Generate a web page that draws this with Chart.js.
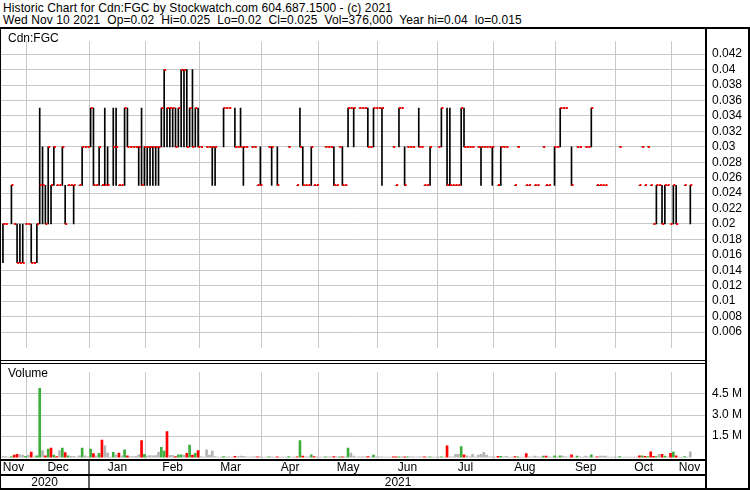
<!DOCTYPE html>
<html>
<head>
<meta charset="utf-8">
<script src="https://cdn.jsdelivr.net/npm/chart.js@4.4.1/dist/chart.umd.min.js"></script>
<style>
  body { margin: 0; background: #fff; }
  #wrap { position: relative; width: 750px; height: 490px; overflow: hidden; background: #fff;
          font-family: Arial, "Liberation Sans", sans-serif; font-size: 12px; color: #000; }
  .txt { position: absolute; white-space: pre; line-height: 14px; }
  .title { letter-spacing: 0.1px; }
  .rule { position: absolute; background: #000; }
  canvas { position: absolute; left: 0; }
</style>
</head>
<body>
<div id="wrap">
  <div class="txt title" style="left:3px;top:1px">Historic Chart for Cdn:FGC by Stockwatch.com 604.687.1500 - (c) 2021</div>
  <div class="txt title" style="left:3px;top:13px">Wed Nov 10 2021  Op=0.02  Hi=0.025  Lo=0.02  Cl=0.025  Vol=376,000  Year hi=0.04  lo=0.015</div>
  <canvas id="priceChart" width="750" height="331" style="top:29px"></canvas>
  <canvas id="volumeChart" width="750" height="130" style="top:360px"></canvas>
  <div class="txt" style="left:8px;top:31px">Cdn:FGC</div>
  <div class="txt" style="left:8px;top:366px">Volume</div>
  <!-- frame -->
  <div class="rule" style="left:0;top:27px;width:750px;height:2px"></div>
  <div class="rule" style="left:0;top:29px;width:1px;height:461px"></div>
  <div class="rule" style="left:748px;top:27px;width:2px;height:463px"></div>
  <div class="rule" style="left:705px;top:29px;width:2px;height:459px"></div>
  <div class="rule" style="left:0;top:360px;width:707px;height:1px"></div>
  <div class="rule" style="left:0;top:363px;width:707px;height:1px"></div>
  <div class="rule" style="left:0;top:459px;width:707px;height:2px"></div>
  <div class="rule" style="left:0;top:474px;width:707px;height:2px"></div>
  <div class="rule" style="left:0;top:488px;width:750px;height:2px"></div>
</div>
<script>
// month layout of the trading-day axis
const monthNames = ['Nov', 'Dec', 'Jan', 'Feb', 'Mar', 'Apr', 'May', 'Jun', 'Jul', 'Aug', 'Sep', 'Oct', 'Nov'];
const monthDays = [9, 22, 20, 19, 22, 20, 21, 21, 20, 22, 21, 20, 7];
const yearLabels = ['2020', '2021'];
const yearMonths = [2, 11];

const priceTicks = [0.006, 0.008, 0.01, 0.012, 0.014, 0.016, 0.018, 0.02, 0.022, 0.024,
                    0.026, 0.028, 0.03, 0.032, 0.034, 0.036, 0.038, 0.04, 0.042];
const volumeTicks = [1500000, 3000000, 4500000];
const volumeTickLabels = ['1.5 M', '3.0 M', '4.5 M'];

// daily high / low / close (null = no trade)
const highs = [
  // Nov 2020
  0.02, 0.02, null, 0.025, 0.02, 0.02, 0.02, 0.02, 0.02,
  // Dec
  0.02, 0.02, 0.015, 0.02, 0.035, 0.03, 0.025, 0.03, 0.025, 0.03, 0.025, 0.025, 0.03, 0.025, 0.025, 0.025, 0.025, null, 0.025, 0.03, 0.03, 0.03,
  // Jan 2021
  0.035, 0.035, 0.025, 0.03, 0.025, 0.035, 0.03, null, 0.035, 0.035, 0.025, 0.025, 0.035, 0.035, 0.03, 0.03, 0.03, 0.03, 0.035, 0.03,
  // Feb
  0.03, 0.03, 0.03, 0.03, 0.03, 0.035, 0.04, 0.035, 0.035, 0.035, 0.035, 0.035, 0.04, 0.04, 0.04, 0.035, 0.04, 0.035, 0.035,
  // Mar
  0.03, null, 0.03, 0.03, 0.03, 0.03, null, null, 0.035, 0.035, 0.035, null, 0.035, 0.03, 0.035, 0.03, 0.03, null, 0.03, 0.03, 0.025, 0.03,
  // Apr
  null, null, 0.03, 0.03, null, 0.03, null, null, null, 0.03, null, null, 0.025, 0.035, 0.03, 0.025, 0.025, 0.03, 0.025, 0.025,
  // May
  null, null, 0.03, 0.03, 0.03, 0.03, 0.025, 0.03, 0.03, 0.025, 0.035, 0.035, 0.035, null, 0.035, 0.035, 0.035, 0.035, 0.03, 0.035, 0.035,
  // Jun
  0.035, 0.035, null, null, null, 0.03, 0.025, 0.035, 0.035, 0.03, 0.03, 0.03, 0.03, null, 0.035, 0.03, 0.025, 0.025, 0.03, null, null,
  // Jul
  0.03, 0.035, null, 0.035, 0.035, 0.025, 0.025, 0.025, 0.035, 0.035, 0.03, 0.03, 0.03, null, 0.03, 0.03, 0.03, 0.03, 0.03, 0.03,
  // Aug
  null, 0.025, 0.03, 0.03, 0.03, null, null, 0.025, 0.03, null, null, 0.025, 0.025, null, 0.025, 0.025, null, 0.03, 0.025, 0.025, null, 0.03,
  // Sep
  0.03, 0.035, 0.035, 0.035, null, 0.03, null, 0.03, 0.03, null, 0.03, 0.03, 0.035, null, 0.025, 0.025, 0.025, 0.025, null, null, null,
  // Oct
  null, 0.03, null, null, null, null, null, null, 0.025, 0.03, 0.025, 0.03, 0.025, 0.02, 0.025, 0.025, 0.025, 0.025, 0.025, 0.02,
  // Nov 2021
  0.025, 0.025, null, null, 0.025, null, 0.025
];
const lows = [
  0.015, 0.02, null, 0.02, 0.02, 0.015, 0.015, 0.015, 0.02,
  0.02, 0.015, 0.015, 0.015, 0.02, 0.02, 0.02, 0.02, 0.02, 0.025, 0.025, 0.025, 0.025, 0.02, 0.025, 0.025, 0.02, null, 0.025, 0.025, 0.03, 0.03,
  0.03, 0.025, 0.025, 0.025, 0.025, 0.025, 0.025, null, 0.025, 0.025, 0.025, 0.025, 0.025, 0.03, 0.03, 0.03, 0.03, 0.025, 0.025, 0.025,
  0.025, 0.025, 0.025, 0.025, 0.025, 0.03, 0.03, 0.03, 0.03, 0.03, 0.03, 0.03, 0.03, 0.03, 0.03, 0.03, 0.03, 0.03, 0.03,
  0.03, null, 0.03, 0.03, 0.025, 0.025, null, null, 0.03, 0.035, 0.035, null, 0.03, 0.03, 0.03, 0.025, 0.03, null, 0.03, 0.03, 0.025, 0.025,
  null, null, 0.03, 0.025, null, 0.025, null, null, null, 0.03, null, null, 0.025, 0.03, 0.025, 0.025, 0.025, 0.025, 0.025, 0.025,
  null, null, 0.03, 0.03, 0.03, 0.025, 0.025, 0.03, 0.025, 0.025, 0.03, 0.035, 0.03, null, 0.035, 0.035, 0.035, 0.03, 0.03, 0.03, 0.035,
  0.035, 0.025, null, null, null, 0.03, 0.025, 0.03, 0.035, 0.025, 0.03, 0.03, 0.03, null, 0.03, 0.03, 0.025, 0.025, 0.025, null, null,
  0.03, 0.03, null, 0.025, 0.025, 0.025, 0.025, 0.025, 0.025, 0.03, 0.03, 0.03, 0.03, null, 0.03, 0.025, 0.03, 0.03, 0.03, 0.025,
  null, 0.025, 0.025, 0.03, 0.03, null, null, 0.025, 0.03, null, null, 0.025, 0.025, null, 0.025, 0.025, null, 0.03, 0.025, 0.025, null, 0.025,
  0.03, 0.03, 0.035, 0.035, null, 0.025, null, 0.03, 0.03, null, 0.03, 0.03, 0.03, null, 0.025, 0.025, 0.025, 0.025, null, null, null,
  null, 0.03, null, null, null, null, null, null, 0.025, 0.03, 0.025, 0.03, 0.025, 0.02, 0.02, 0.025, 0.02, 0.02, 0.025, 0.02,
  0.02, 0.02, null, null, 0.025, null, 0.02
];
const closes = [
  0.02, 0.02, null, 0.025, 0.02, 0.015, 0.015, 0.015, 0.02,
  0.02, 0.015, 0.015, 0.02, 0.025, 0.025, 0.02, 0.03, 0.025, 0.03, 0.025, 0.025, 0.03, 0.02, 0.025, 0.025, 0.025, null, 0.025, 0.03, 0.03, 0.03,
  0.035, 0.025, 0.025, 0.03, 0.025, 0.025, 0.025, null, 0.03, 0.03, 0.025, 0.025, 0.035, 0.03, 0.03, 0.03, 0.03, 0.03, 0.025, 0.03,
  0.03, 0.03, 0.03, 0.03, 0.03, 0.035, 0.04, 0.035, 0.035, 0.035, 0.03, 0.035, 0.04, 0.04, 0.03, 0.035, 0.03, 0.035, 0.03,
  0.03, null, 0.03, 0.03, 0.03, 0.03, null, null, 0.035, 0.035, 0.035, null, 0.03, 0.03, 0.03, 0.03, 0.03, null, 0.03, 0.03, 0.025, 0.025,
  null, null, 0.03, 0.03, null, 0.025, null, null, null, 0.03, null, null, 0.025, 0.03, 0.025, 0.025, 0.025, 0.03, 0.025, 0.025,
  null, null, 0.03, 0.03, 0.03, 0.025, 0.025, 0.03, 0.025, 0.025, 0.035, 0.035, 0.035, null, 0.035, 0.035, 0.035, 0.03, 0.03, 0.035, 0.035,
  0.035, 0.035, null, null, null, 0.03, 0.025, 0.035, 0.035, 0.025, 0.03, 0.03, 0.03, null, 0.03, 0.03, 0.025, 0.025, 0.03, null, null,
  0.03, 0.035, null, 0.025, 0.025, 0.025, 0.025, 0.025, 0.035, 0.03, 0.03, 0.03, 0.03, null, 0.03, 0.03, 0.03, 0.03, 0.03, 0.03,
  null, 0.025, 0.03, 0.03, 0.03, null, null, 0.025, 0.03, null, null, 0.025, 0.025, null, 0.025, 0.025, null, 0.03, 0.025, 0.025, null, 0.03,
  0.03, 0.035, 0.035, 0.035, null, 0.025, null, 0.03, 0.03, null, 0.03, 0.03, 0.035, null, 0.025, 0.025, 0.025, 0.025, null, null, null,
  null, 0.03, null, null, null, null, null, null, 0.025, 0.03, 0.025, 0.03, 0.025, 0.02, 0.025, 0.025, 0.02, 0.025, 0.025, 0.02,
  0.025, 0.02, null, null, 0.025, null, 0.025
];
const volumes = [
  60000, 40000, 0, 50000, 150000, 210000, 170000, 150000, 60000,
  150000, 360000, 30000, 100000, 4900000, 470000, 100000, 580000, 640000, 150000, 40000, 470000, 640000, 320000, 100000, 60000, 60000, 0, 100000, 640000, 100000, 50000,
  580000, 260000, 100000, 280000, 1220000, 810000, 300000, 0, 340000, 170000, 300000, 100000, 530000, 100000, 50000, 50000, 60000, 170000, 1180000, 210000,
  100000, 120000, 100000, 120000, 360000, 700000, 430000, 1820000, 130000, 130000, 40000, 170000, 170000, 150000, 280000, 860000, 150000, 280000, 470000,
  50000, 0, 530000, 150000, 430000, 50000, 0, 0, 40000, 30000, 30000, 0, 60000, 40000, 80000, 60000, 30000, 0, 30000, 30000, 30000, 30000,
  0, 0, 30000, 30000, 0, 30000, 0, 0, 0, 40000, 0, 0, 30000, 1180000, 80000, 30000, 30000, 170000, 40000, 30000,
  0, 0, 30000, 30000, 30000, 40000, 30000, 30000, 30000, 30000, 640000, 300000, 80000, 0, 30000, 30000, 30000, 40000, 30000, 150000, 30000,
  30000, 30000, 0, 0, 0, 30000, 30000, 30000, 30000, 30000, 30000, 30000, 30000, 0, 30000, 30000, 30000, 30000, 30000, 0, 0,
  30000, 30000, 0, 810000, 30000, 30000, 210000, 200000, 750000, 170000, 100000, 30000, 210000, 0, 150000, 210000, 340000, 150000, 30000, 30000,
  0, 60000, 60000, 30000, 60000, 0, 0, 40000, 30000, 0, 0, 260000, 30000, 0, 80000, 30000, 0, 80000, 80000, 30000, 0, 100000,
  30000, 100000, 80000, 30000, 0, 170000, 0, 80000, 30000, 0, 80000, 30000, 170000, 0, 30000, 80000, 80000, 80000, 0, 0, 0,
  0, 40000, 0, 0, 0, 0, 0, 0, 100000, 100000, 60000, 40000, 390000, 60000, 50000, 210000, 210000, 80000, 30000, 280000,
  360000, 100000, 0, 0, 40000, 0, 376000
];

// axis ranges (day index / price / shares)
const X_MIN = -1.04, X_MAX = 248.9;
const P_MIN = 0.00396, P_MAX = 0.04368;
const V_MIN = -128000, V_MAX = 6043000;

const GRID = '#c8c8c8';
const UP = '#3cae3c', DOWN = '#ff0000', FLAT = '#b4b4b4';
Chart.defaults.font.family = 'Arial, "Liberation Sans", sans-serif';
Chart.defaults.font.size = 12;
Chart.defaults.color = '#000';

// month boundaries and label centres
const monthBounds = [];
let acc = 0;
monthDays.forEach((n, k) => { if (k > 0) monthBounds.push(acc - 0.5); acc += n; });
const edges = [X_MIN].concat(monthBounds, [X_MAX]);
const monthMids = monthNames.map((m, k) => (edges[k] + edges[k + 1]) / 2);
const yearEdges = [X_MIN, monthBounds[yearMonths[0] - 1], X_MAX];
const yearMids = yearLabels.map((y, k) => (yearEdges[k] + yearEdges[k + 1]) / 2);

const priceBars = [];
const closeTicks = [];
highs.forEach((h, i) => {
    if (h === null) return;
    priceBars.push({ x: i, y: [lows[i], h] });
    closeTicks.push({ x: i, y: closes[i] });
});

// volume colour follows the change in close
let prevClose = null;
const volColors = closes.map(c => {
    let col = FLAT;
    if (c !== null && prevClose !== null) {
        col = c > prevClose ? UP : (c < prevClose ? DOWN : FLAT);
    }
    if (c !== null) prevClose = c;
    return col;
});
const volBars = volumes.map((v, i) => ({ x: i, y: v }));

// small red close tick, drawn right of the bar
const tickMark = document.createElement('canvas');
tickMark.width = 6;
tickMark.height = 2;
const tctx = tickMark.getContext('2d');
tctx.fillStyle = '#ff0000';
tctx.fillRect(3, 0, 2, 2);

function monthGridAxis() {
    return {
        type: 'linear', min: X_MIN, max: X_MAX, offset: false, weight: 0,
        grid: { color: GRID, lineWidth: 1, drawTicks: false, offset: false },
        border: { display: false },
        ticks: { display: false },
        afterBuildTicks: s => { s.ticks = monthBounds.map(v => ({ value: v })); },
        afterFit: s => { s.height = 0; }
    };
}

new Chart(document.getElementById('priceChart'), {
    type: 'bar',
    data: {
        datasets: [
            { type: 'bar', data: priceBars, backgroundColor: '#000', barThickness: 1, borderWidth: 0, order: 2 },
            { type: 'scatter', data: closeTicks, pointStyle: tickMark, pointRadius: 3, pointHoverRadius: 3, order: 1 }
        ]
    },
    options: {
        responsive: false,
        animation: false,
        events: [],
        layout: { padding: 0, autoPadding: false },
        plugins: { legend: { display: false }, tooltip: { enabled: false } },
        scales: {
            x: monthGridAxis(),
            y: {
                position: 'right', min: P_MIN, max: P_MAX,
                grid: { color: GRID, drawTicks: false },
                border: { display: false },
                ticks: { padding: 5, callback: v => String(v) },
                afterBuildTicks: s => { s.ticks = priceTicks.map(v => ({ value: v })); },
                afterFit: s => { s.width = 43; }
            }
        }
    }
});

const yearDivider = {
    id: 'yearDivider',
    afterDraw(chart) {
        const ctx = chart.ctx;
        const px = Math.round(chart.scales.x.getPixelForValue(monthBounds[yearMonths[0] - 1]));
        ctx.save();
        ctx.fillStyle = '#606060';
        ctx.fillRect(px - 1, chart.chartArea.bottom + 2, 2, chart.height - chart.chartArea.bottom - 4);
        ctx.restore();
    }
};

new Chart(document.getElementById('volumeChart'), {
    type: 'bar',
    data: {
        datasets: [{ data: volBars, backgroundColor: volColors, barThickness: 2, borderWidth: 0 }]
    },
    options: {
        responsive: false,
        animation: false,
        events: [],
        layout: { padding: { top: 3, bottom: 2, left: 0, right: 0 }, autoPadding: false },
        plugins: { legend: { display: false }, tooltip: { enabled: false } },
        scales: {
            x: monthGridAxis(),
            xm: {
                type: 'linear', position: 'bottom', min: X_MIN, max: X_MAX, offset: false, weight: 1,
                grid: { display: false, drawTicks: false }, border: { display: false },
                ticks: { autoSkip: false, maxRotation: 0, padding: 1, callback: (v, i) => monthNames[i] },
                afterBuildTicks: s => { s.ticks = monthMids.map(v => ({ value: v })); },
                afterFit: s => { s.height = 16; }
            },
            xy: {
                type: 'linear', position: 'bottom', min: X_MIN, max: X_MAX, offset: false, weight: 2,
                grid: { display: false, drawTicks: false }, border: { display: false },
                ticks: { autoSkip: false, maxRotation: 0, padding: 0, callback: (v, i) => yearLabels[i] },
                afterBuildTicks: s => { s.ticks = yearMids.map(v => ({ value: v })); },
                afterFit: s => { s.height = 13; }
            },
            y: {
                position: 'right', min: V_MIN, max: V_MAX,
                grid: { color: GRID, drawTicks: false },
                border: { display: false },
                ticks: { padding: 5, callback: (v, i) => volumeTickLabels[i] },
                afterBuildTicks: s => { s.ticks = volumeTicks.map(v => ({ value: v })); },
                afterFit: s => { s.width = 43; }
            }
        }
    },
    plugins: [yearDivider]
});
</script>
</body>
</html>
